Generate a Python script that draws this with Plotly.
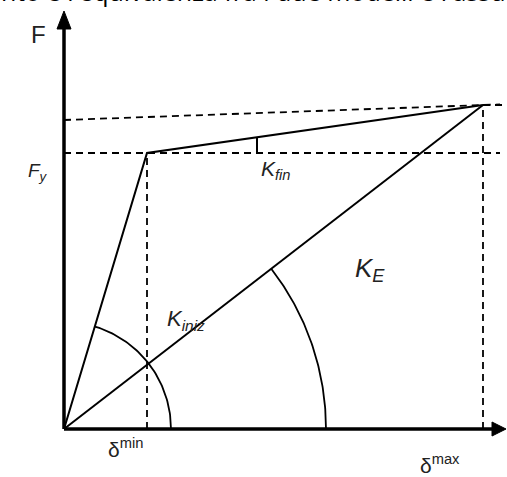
import numpy as np
import plotly.graph_objects as go

# Diagram values (origin at the axes intersection)
delta_pts = [0, 83, 419]        # 0, delta_min, delta_max
force_pts = [0, 276, 324]       # 0, F_y, F_max
upper_dash_x = [0, 436]
upper_dash_y = [309, 324.6]
delta_min, delta_max = 83, 419
F_y, F_max = 276, 324

W, H = 507, 477
X0, Y0 = 64, 429  # pixel position of origin
xr = [-X0, W - X0]
yr = [-(H - Y0), Y0]

fig = go.Figure()
blk = "black"

def line(x, y, w=2, dash=None):
    fig.add_trace(go.Scatter(x=x, y=y, mode="lines",
                             line=dict(color=blk, width=w, dash=dash),
                             hoverinfo="skip", showlegend=False))

# dashed guides
dash = "7px,5px"
line([0, 436], [F_y, F_y], 1.8, dash)
line(upper_dash_x, upper_dash_y, 1.8, dash)
line([delta_max, 443], [F_max, F_max], 1.8, dash)
line([delta_min, delta_min], [0, F_y], 1.8, dash)
line([delta_max, delta_max], [0, F_max], 1.8, dash)

# bilinear curve
line(delta_pts, force_pts, 2)
# secant stiffness line
line([0, delta_max], [0, F_max], 2)

# small tick for K_fin
xt = 193
yt = F_y + (F_max - F_y) * (xt - delta_min) / (delta_max - delta_min)
line([xt, xt], [F_y, yt], 2)

# arcs
a1 = np.arctan2(F_y, delta_min)
t = np.linspace(0, a1, 60)
line(list(107 * np.cos(t)), list(107 * np.sin(t)), 1.8)
a2 = np.arctan2(F_max, delta_max)
t = np.linspace(0, a2, 80)
line(list(262 * np.cos(t)), list(262 * np.sin(t)), 1.8)

# axes
line([0, 0], [0, 402], 3.5)
line([0, 430], [0, 0], 3.5)
fig.add_trace(go.Scatter(x=[-7, 0, 7, -7], y=[400, 418, 400, 400], mode="lines",
                         fill="toself", fillcolor=blk, line=dict(color=blk, width=1),
                         hoverinfo="skip", showlegend=False))
fig.add_trace(go.Scatter(x=[428, 442, 428, 428], y=[7, 0, -7, 7], mode="lines",
                         fill="toself", fillcolor=blk, line=dict(color=blk, width=1),
                         hoverinfo="skip", showlegend=False))

def txt(x, y, s, size, xanchor="left", yanchor="middle", font="Liberation Sans", color="#222"):
    fig.add_annotation(x=x, y=y, text=s, showarrow=False, xanchor=xanchor, yanchor=yanchor,
                       font=dict(size=size, family=font, color=color))

txt(-26, 395, "F", 24, "center")
txt(-38, 257, "<i>F<sub>y</sub></i>", 19)
txt(195, 259, "<i>K<sub>fin</sub></i>", 21)
txt(289, 160, "<i>K<sub>E</sub></i>", 26)
txt(101, 109, "<i>K<sub>iniz</sub></i>", 22)
txt(42, -19, "δ<sup>min</sup>", 21)
txt(354, -35, "δ<sup>max</sup>", 21)

fig.add_annotation(x=0.5, y=1 - 10 / H, xref="paper", yref="paper",
                   text="nto e l'equivalenza fra i due modelli e l'assu",
                   showarrow=False, xanchor="center", yanchor="bottom",
                   font=dict(size=25, family="Open Sans", color="black"))

fig.update_layout(width=W, height=H, margin=dict(l=0, r=0, t=0, b=0),
                  paper_bgcolor="white", plot_bgcolor="white",
                  xaxis=dict(range=xr, visible=False, fixedrange=True),
                  yaxis=dict(range=yr, visible=False, fixedrange=True))
fig.write_html("out.html", config={"displayModeBar": False},
               post_script="document.body.style.margin='0';document.body.style.overflow='hidden';")
